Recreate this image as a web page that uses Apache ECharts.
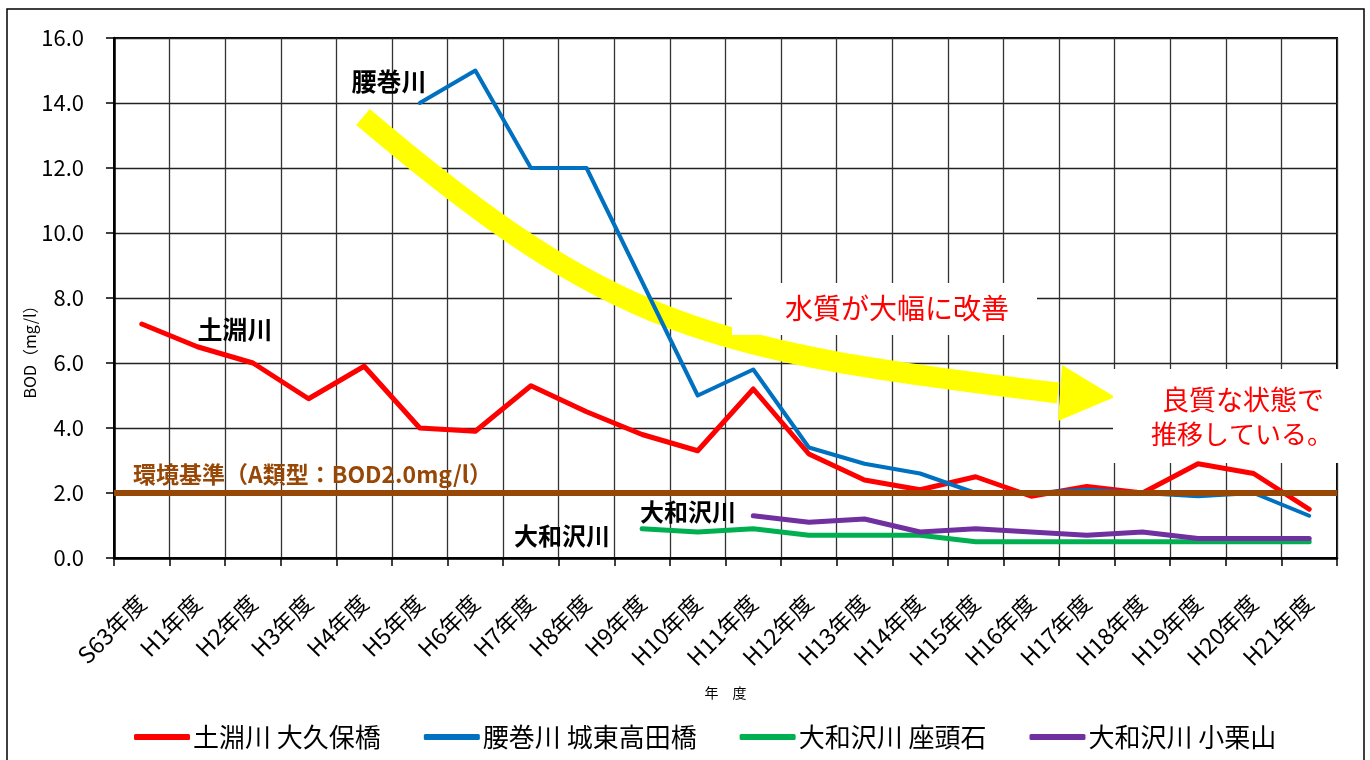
<!DOCTYPE html>
<html>
<head>
<meta charset="utf-8">
<script src="https://cdn.jsdelivr.net/npm/echarts@6/dist/echarts.min.js"></script>
<style>
html,body{margin:0;padding:0;background:#fff;}
#chart{width:1370px;height:760px;}
</style>
</head>
<body>
<div id="chart"></div>
<script>
const categories = ['S63年度','H1年度','H2年度','H3年度','H4年度','H5年度','H6年度','H7年度','H8年度','H9年度','H10年度','H11年度','H12年度','H13年度','H14年度','H15年度','H16年度','H17年度','H18年度','H19年度','H20年度','H21年度'];
const tsuchibuchiOkubo = [7.2,6.5,6.0,4.9,5.9,4.0,3.9,5.3,4.5,3.8,3.3,5.2,3.2,2.4,2.1,2.5,1.9,2.2,2.0,2.9,2.6,1.5];
const koshimakiJoto = [null,null,null,null,null,14.0,15.0,12.0,12.0,8.5,5.0,5.8,3.4,2.9,2.6,2.0,2.0,2.1,2.0,1.9,2.0,1.3];
const yamatozawaZato = [null,null,null,null,null,null,null,null,null,0.9,0.8,0.9,0.7,0.7,0.7,0.5,0.5,0.5,0.5,0.5,0.5,0.5];
const yamatozawaOguri = [null,null,null,null,null,null,null,null,null,null,null,1.3,1.1,1.2,0.8,0.9,0.8,0.7,0.8,0.6,0.6,0.6];
const seriesNames = ['土淵川 大久保橋','腰巻川 城東高田橋','大和沢川 座頭石','大和沢川 小栗山'];
const standardValue = 2.0;
const standardLabel = '環境基準（A類型：BOD2.0mg/l）';
const yTicks = {min:0, max:16, interval:2};

const FONT = '"Noto Sans CJK JP", "Noto Sans", sans-serif';
const chart = echarts.init(document.getElementById('chart'));

function lineSeries(name, data, color, width) {
  return {
    name: name, type: 'line', data: data, symbol: 'none', z: 3,
    connectNulls: false,
    lineStyle: {color: color, width: width, join: 'round', cap: 'round'},
    itemStyle: {color: color}
  };
}

const option = {
  backgroundColor: '#fff',
  animation: false,
  textStyle: {fontFamily: FONT},
  grid: {left: 114, right: 33, top: 38, bottom: 202, show: true, borderColor: '#000', borderWidth: 2, backgroundColor: 'transparent'},
  xAxis: {
    type: 'category', data: categories, boundaryGap: true,
    name: '年　度', nameLocation: 'middle', nameGap: 128,
    nameTextStyle: {fontSize: 14, color: '#000', fontFamily: FONT},
    axisLine: {lineStyle: {color: '#000', width: 2.5}},
    axisTick: {show: true, length: 8, interval: 0, lineStyle: {color: '#000', width: 1.5}},
    axisLabel: {rotate: 45, interval: 0, fontSize: 23, color: '#000', margin: 41, fontFamily: FONT},
    splitLine: {show: true, interval: 0, lineStyle: {color: '#333', width: 1.3}}
  },
  yAxis: {
    type: 'value', min: yTicks.min, max: yTicks.max, interval: yTicks.interval,
    axisLine: {show: true, lineStyle: {color: '#000', width: 2.5}},
    axisTick: {show: true, length: 8, inside: false, lineStyle: {color: '#000', width: 1.5}},
    axisLabel: {fontSize: 22, color: '#000', margin: 30, fontFamily: FONT, formatter: v => v.toFixed(1)},
    splitLine: {show: true, lineStyle: {color: '#222', width: 1.3}}
  },
  legend: {
    data: seriesNames, left: 129, top: 719, itemGap: 43, itemWidth: 56, itemHeight: 6,
    icon: 'roundRect',
    textStyle: {fontSize: 26, color: '#000', fontFamily: FONT, padding: [0,0,0,-2]}
  },
  series: [
    lineSeries(seriesNames[0], tsuchibuchiOkubo, '#FF0000', 5),
    lineSeries(seriesNames[1], koshimakiJoto, '#0070C0', 4),
    lineSeries(seriesNames[2], yamatozawaZato, '#00B050', 5),
    lineSeries(seriesNames[3], yamatozawaOguri, '#7030A0', 5),
    {
      name: '環境基準', type: 'line', data: [], z: 6,
      markLine: {
        silent: true, symbol: ['none','none'], animation: false,
        lineStyle: {color: '#974706', width: 6, type: 'solid'},
        label: {show: true, position: 'insideStartTop', formatter: standardLabel, color: '#974706', fontSize: 23, fontWeight: 'bold', fontFamily: FONT, distance: [19, 7]},
        data: [{yAxis: standardValue}]
      }
    }
  ],
  graphic: [
    {type: 'rect', z: 0, silent: true, shape: {x: 7, y: 9, width: 1357, height: 800}, style: {fill: null, stroke: '#000', lineWidth: 1.5}},
    {type: 'bezierCurve', z: 1, silent: true, shape: {x1: 363, y1: 117, cpx1: 613, cpy1: 329.5, cpx2: 708, cpy2: 351, x2: 1058, y2: 393}, style: {fill: null, stroke: '#FFFF00', lineWidth: 21, lineCap: 'butt'}},
    {type: 'polygon', z: 1, silent: true, shape: {points: [[1062,365],[1115,397],[1058,421]]}, style: {fill: '#FFFF00'}},
    {type: 'rect', z: 1, silent: true, shape: {x: 732, y: 283, width: 305, height: 52}, style: {fill: '#fff'}},
    {type: 'rect', z: 1, silent: true, shape: {x: 1113, y: 369, width: 232, height: 94}, style: {fill: '#fff'}},
    {type: 'text', z: 10, silent: true, x: 897, y: 308, style: {text: '水質が大幅に改善', fill: '#FF0000', font: '28px ' + FONT, textAlign: 'center', textVerticalAlign: 'middle'}},
    {type: 'text', z: 10, silent: true, x: 1243, y: 400, style: {text: '良質な状態で', fill: '#FF0000', font: '27px ' + FONT, textAlign: 'center', textVerticalAlign: 'middle'}},
    {type: 'text', z: 10, silent: true, x: 1242, y: 434, style: {text: '推移している。', fill: '#FF0000', font: '26px ' + FONT, textAlign: 'center', textVerticalAlign: 'middle'}},
    {type: 'text', z: 10, silent: true, x: 389, y: 81, style: {text: '腰巻川', fill: '#000', font: 'bold 25px ' + FONT, textAlign: 'center', textVerticalAlign: 'middle'}},
    {type: 'text', z: 10, silent: true, x: 235, y: 329, style: {text: '土淵川', fill: '#000', font: 'bold 25px ' + FONT, textAlign: 'center', textVerticalAlign: 'middle'}},
    {type: 'text', z: 10, silent: true, x: 562, y: 536, style: {text: '大和沢川', fill: '#000', font: 'bold 24px ' + FONT, textAlign: 'center', textVerticalAlign: 'middle'}},
    {type: 'text', z: 10, silent: true, x: 688, y: 512, style: {text: '大和沢川', fill: '#000', font: 'bold 24px ' + FONT, textAlign: 'center', textVerticalAlign: 'middle'}},
    {type: 'text', z: 10, silent: true, x: 30, y: 348, rotation: Math.PI / 2, style: {text: 'BOD（mg/l）', fill: '#000', font: '16px ' + FONT, textAlign: 'center', textVerticalAlign: 'middle'}}
  ]
};
chart.setOption(option);
</script>
</body>
</html>
